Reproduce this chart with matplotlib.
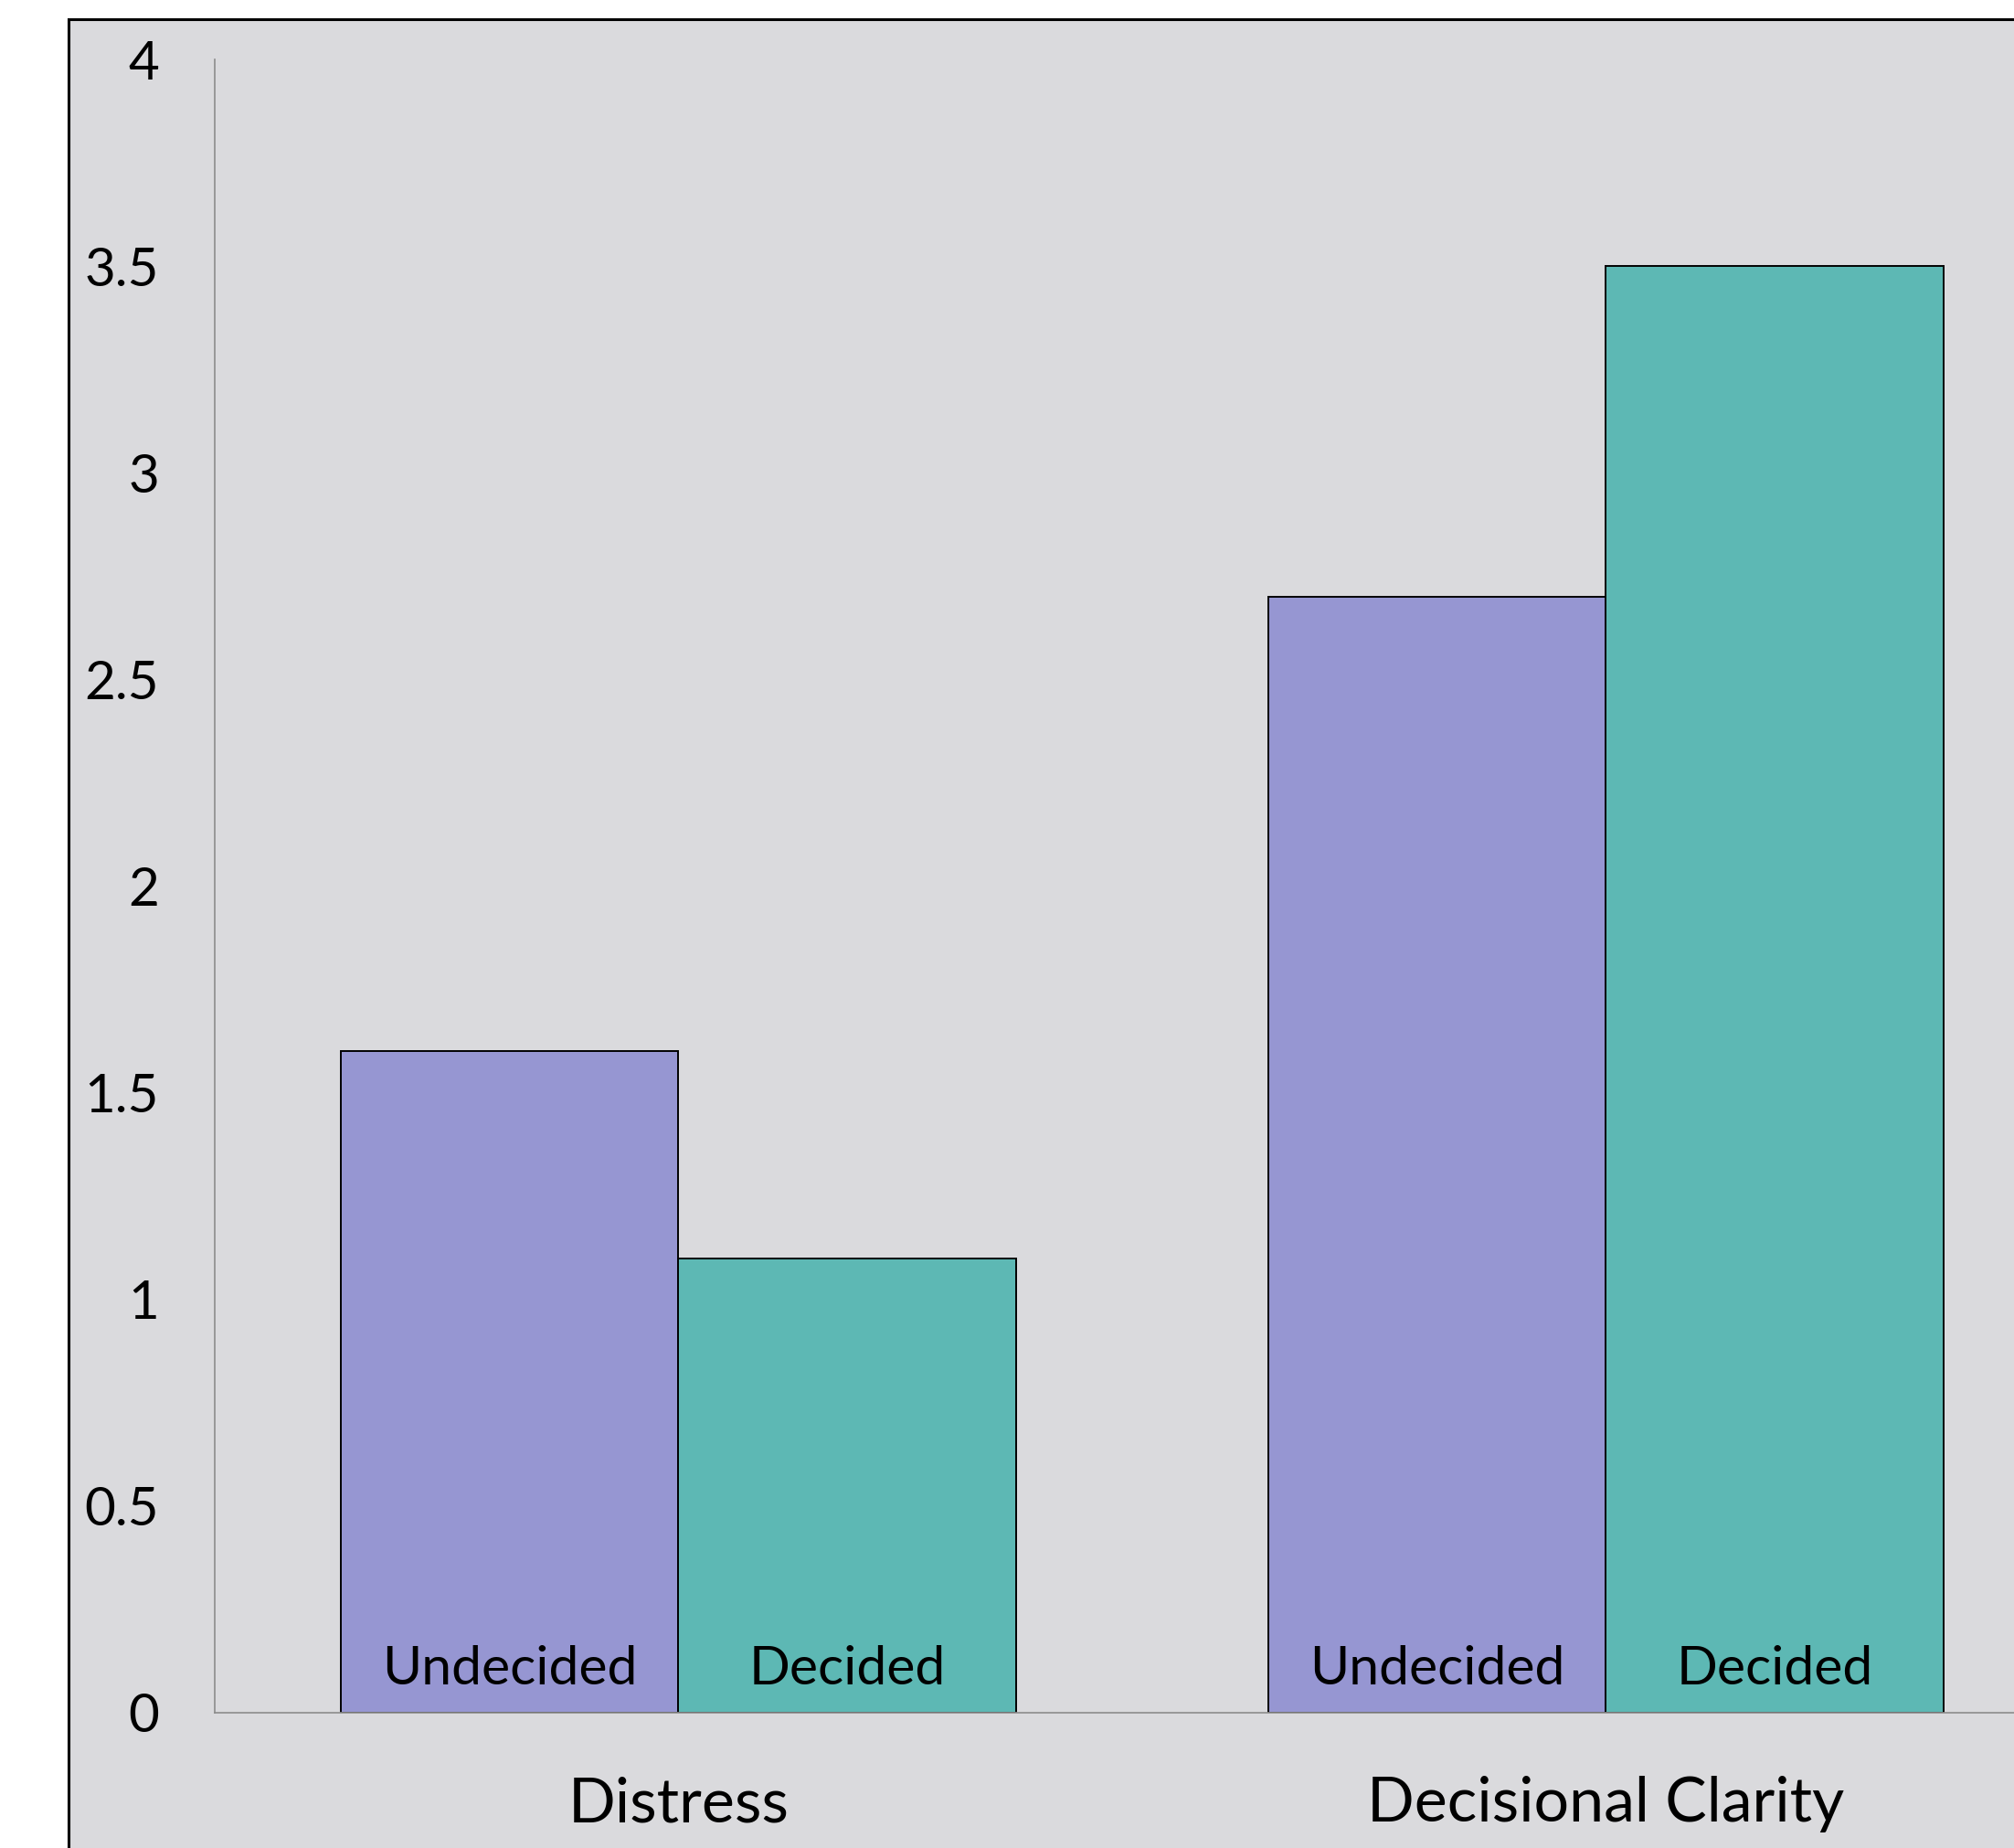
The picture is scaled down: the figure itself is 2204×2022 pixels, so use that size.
import numpy as np
import matplotlib.pyplot as plt
from matplotlib.patches import Rectangle

plt.rcParams['font.family'] = ['Lato', 'DejaVu Sans']

categories = ["Distress", "Decisional Clarity"]
groups = ["Undecided", "Decided"]
undecided = [1.6, 2.7]
decided = [1.1, 3.5]
yticks = [0, 0.5, 1, 1.5, 2, 2.5, 3, 3.5, 4]
ytick_labels = ["0", "0.5", "1", "1.5", "2", "2.5", "3", "3.5", "4"]

purple = "#9696D2"
teal = "#5DB8B4"
panel = "#DADADD"

fig = plt.figure(figsize=(11.02, 10.11), dpi=200)
fig.patch.set_facecolor("white")

# chart panel with a black border, running off the right and bottom edges
fig.patches.append(Rectangle((0.034, -0.2), 1.2, 1.1896, transform=fig.transFigure,
                             facecolor=panel, edgecolor="black", linewidth=1.1, zorder=-10))

ax = fig.add_axes([0.1066, 0.0732, 0.921, 0.8946])
ax.set_facecolor("none")
ax.set_zorder(1)

x = np.arange(len(categories))
w = 0.364
b1 = ax.bar(x - w / 2, undecided, w, color=purple, edgecolor="black", linewidth=0.7)
b2 = ax.bar(x + w / 2, decided, w, color=teal, edgecolor="black", linewidth=0.7)

for bars, name in [(b1, groups[0]), (b2, groups[1])]:
    for r in bars:
        ax.text(r.get_x() + r.get_width() / 2, 0.105, name, ha="center", va="center",
                fontsize=21.2)

for xi, c in zip(x, categories):
    ax.text(xi, -0.222, c, ha="center", va="center", fontsize=24.5, clip_on=False)

ax.set_xlim(-0.5, 1.5)
ax.set_ylim(0, 4)
ax.set_xticks([])
ax.set_yticks(yticks)
ax.set_yticklabels(ytick_labels, fontsize=21)
ax.tick_params(axis="y", length=0, pad=22)

for s in ["top", "right"]:
    ax.spines[s].set_visible(False)
for s in ["left", "bottom"]:
    ax.spines[s].set_color("#8C8C8C")
    ax.spines[s].set_linewidth(0.6)

fig.savefig("out.png", dpi=200)
